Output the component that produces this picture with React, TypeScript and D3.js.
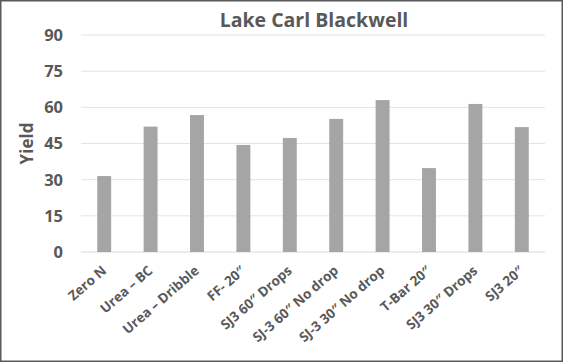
import * as d3 from "d3";

const categories = [
  "Zero N",
  "Urea – BC",
  "Urea – Dribble",
  "FF- 20\u2033",
  "SJ3 60\u2033 Drops",
  "SJ-3 60\u2033 No drop",
  "SJ-3 30\u2033 No drop",
  "T-Bar 20\u2033",
  "SJ3 30\u2033 Drops",
  "SJ3 20\u2033",
];
const yields = [31.5, 52, 56.8, 44.4, 47.3, 55.2, 63, 34.8, 61.4, 51.8];
const yTicks = [0, 15, 30, 45, 60, 75, 90];

const W = 563;
const H = 362;
const margin = { left: 81, right: 18, top: 35, bottom: 110 };
const FONT = "'Open Sans', Calibri, sans-serif";
const TEXT = "#595959";

export default function App() {
  const x = d3
    .scaleBand<string>()
    .domain(categories)
    .range([margin.left, W - margin.right])
    .paddingInner(0.7)
    .paddingOuter(0.35);
  const y = d3.scaleLinear().domain([0, 90]).range([H - margin.bottom, margin.top]);

  return (
    <svg
      width={W}
      height={H}
      style={{ position: "absolute", left: 0, top: 0, background: "#fff" }}
      fontFamily={FONT}
    >
      <rect x={0.75} y={0.75} width={W - 1.5} height={H - 1.5} fill="#fff" stroke="#595959" strokeWidth={1.5} />
      <text x={314} y={27} textAnchor="middle" fontSize={19.5} fontWeight="bold" fill={TEXT}>
        Lake Carl Blackwell
      </text>

      {/* grid + y ticks */}
      {yTicks.map((t) => (
        <g key={t}>
          <line
            x1={margin.left}
            x2={W - margin.right}
            y1={y(t)}
            y2={y(t)}
            stroke={t === 0 ? "#d9d9d9" : "#e3e3e3"}
            strokeWidth={1}
          />
          <text x={63} y={y(t)} dy="0.36em" textAnchor="end" fontSize={16.5} fontWeight="bold" fill={TEXT}>
            {t}
          </text>
        </g>
      ))}

      <text
        transform={`translate(33,${(y(0) + y(90)) / 2}) rotate(-90)`}
        textAnchor="middle"
        fontSize={17}
        fontWeight="bold"
        fill={TEXT}
      >
        Yield
      </text>

      {categories.map((c, i) => (
        <rect
          key={c}
          x={x(c)}
          y={y(yields[i])}
          width={x.bandwidth()}
          height={y(0) - y(yields[i])}
          fill="#a5a5a5"
        />
      ))}

      {categories.map((c) => {
        const cx = (x(c) ?? 0) + x.bandwidth() / 2;
        return (
          <g key={c} transform={`translate(${cx + 3},${y(0) + 20})`}>
            <text
              transform="rotate(-41)"
              textAnchor="end"
              fontSize={13.5}
              fontWeight="bold"
              fill={TEXT}
            >
              {c}
            </text>
          </g>
        );
      })}
    </svg>
  );
}
